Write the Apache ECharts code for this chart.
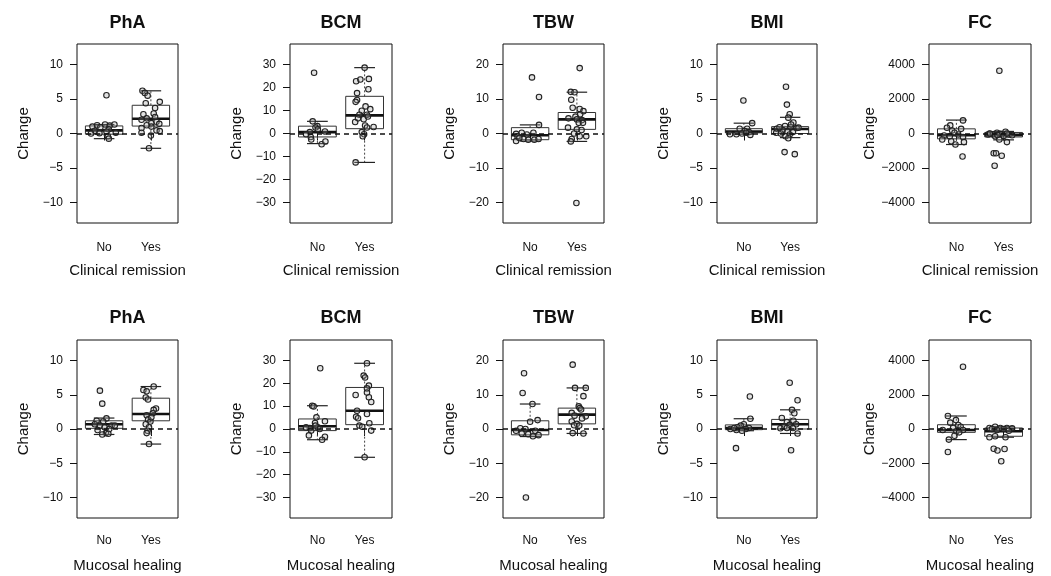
<!DOCTYPE html>
<html>
<head>
<meta charset="utf-8">
<title>Change by remission / healing</title>
<script src="https://cdn.jsdelivr.net/npm/echarts@6/dist/echarts.min.js"></script>
<style>
  html, body { margin: 0; padding: 0; background: #fff; }
  #chart { width: 1051px; height: 576px; }
</style>
</head>
<body>
<div id="chart"></div>
<script>
// 分组与面板
var groups = ["No", "Yes"];
var measures = ["PhA", "BCM", "TBW", "BMI", "FC"];
var rowLabels = ["Clinical remission", "Mucosal healing"];

// y 轴刻度
var ticksPhA = [-10, -5, 0, 5, 10];
var ticksBCM = [-30, -20, -10, 0, 10, 20, 30];
var ticksTBW = [-20, -10, 0, 10, 20];
var ticksBMI = [-10, -5, 0, 5, 10];
var ticksFC = [-4000, -2000, 0, 2000, 4000];
var yLimits = [13, 39, 26, 13, 5200];

// 箱线: [下须, Q1, 中位数, Q3, 上须]，No / Yes
var phaCrBox = [[-0.75, -0.1, 0.45, 1.1, 1.3], [-2.15, 1.08, 2.15, 4.1, 6.2]];
var bcmCrBox = [[-4.4, -1.5, 0.6, 3.2, 5.3], [-12.6, 2.1, 7.9, 16.2, 28.7]];
var tbwCrBox = [[-2.2, -1.8, -0.5, 1.7, 2.5], [-2.3, 1.2, 4.1, 6.1, 12.0]];
var bmiCrBox = [[-0.1, 0.1, 0.3, 0.7, 1.5], [-0.6, 0, 0.65, 1.0, 2.35]];
var fcCrBox = [[-640, -310, -100, 270, 780], [-370, -200, -80, 60, 120]];
var phaMhBox = [[-0.8, 0.1, 0.7, 1.2, 1.6], [-2.2, 1.2, 2.2, 4.5, 6.2]];
var bcmMhBox = [[-4.7, -0.7, 1.2, 4.4, 10.2], [-12.4, 1.9, 8.0, 18.2, 28.8]];
var tbwMhBox = [[-2.2, -1.7, -0.3, 2.4, 7.3], [-1.3, 1.5, 4.2, 6.1, 12.0]];
var bmiMhBox = [[-0.25, -0.1, 0.15, 0.6, 1.5], [-0.65, 0, 0.7, 1.4, 2.8]];
var fcMhBox = [[-620, -195, -60, 250, 760], [-480, -425, -135, 60, 135]];

// 散点: [抖动偏移, 数值]
var phaCrNo = [[-0.25, 1.0], [-0.15, 1.2], [0.02, 1.3], [0.12, 1.15], [0.22, 1.3], [-0.08, 0.9], [0.1, 0.6], [-0.2, 0.4], [0.05, 0.3], [-0.1, 0.05], [0.25, 0.1], [-0.28, 0.0], [0.08, -0.4], [0.1, -0.75], [0.05, 5.55]];
var phaCrYes = [[-0.18, 6.2], [-0.13, 5.9], [-0.07, 5.5], [-0.11, 4.4], [0.19, 4.6], [0.09, 3.7], [0.06, 2.9], [-0.16, 2.8], [-0.09, 2.2], [-0.2, 2.0], [0.12, 1.7], [0.01, 1.5], [0.18, 1.4], [0.01, 1.0], [-0.2, 0.8], [0.12, 0.45], [0.19, 0.35], [-0.2, 0.1], [0, -0.3], [-0.04, -2.15], [0.09, 2.4], [-0.09, 1.2]];
var bcmCrNo = [[-0.07, 26.5], [-0.1, 5.3], [0, 3.2], [-0.04, 2.6], [-0.16, 0.6], [0.16, 0.9], [-0.14, -1.5], [-0.13, -2.6], [0.09, -4.7], [0.17, -3.5], [-0.24, -0.3], [0.01, 1.8]];
var bcmCrYes = [[0, 28.7], [-0.18, 22.8], [-0.09, 23.5], [0.09, 23.8], [0.08, 19.3], [-0.16, 17.6], [-0.16, 14.6], [-0.19, 13.8], [0.02, 11.8], [0.12, 10.6], [-0.06, 9.9], [-0.11, 8.2], [0.05, 8.2], [-0.2, 5.0], [-0.02, 6.2], [-0.14, 6.6], [0.01, 3.5], [0.19, 2.8], [0.05, 2.6], [-0.06, 0.6], [-0.01, -0.3], [-0.04, -1.2], [-0.19, -12.6], [0.07, 7.4]];
var tbwCrNo = [[0.04, 16.3], [0.19, 10.6], [0.19, 2.5], [-0.3, -0.1], [-0.18, 0.2], [-0.07, -0.3], [0.07, 0.2], [-0.27, -0.8], [-0.14, -1.6], [-0.04, -1.8], [0.09, -1.8], [0.18, -1.6], [-0.3, -2.2], [-0.23, -1.3]];
var tbwCrYes = [[0.06, 19], [-0.13, 12.1], [-0.05, 12], [-0.12, 9.8], [-0.09, 7.5], [0.06, 7.1], [0.14, 6.5], [0.07, 5.6], [-0.03, 4.9], [-0.18, 4.4], [0, 4.1], [0.11, 3.9], [0.04, 3.1], [-0.19, 1.7], [0, 1.2], [0.1, 1.0], [-0.06, 0], [0.2, -0.8], [0.06, -0.8], [-0.11, -1.6], [-0.13, -2.3], [-0.01, -20.2], [0.13, 3.1]];
var bmiCrNo = [[-0.01, 4.8], [0.18, 1.5], [-0.09, 0.7], [0.07, 0.7], [0.02, 0.35], [0.11, 0.2], [-0.16, -0.1], [-0.04, 0], [-0.3, -0.1], [0.14, -0.2], [0.05, 0.1]];
var bmiCrYes = [[-0.09, 6.8], [-0.07, 4.2], [-0.01, 2.8], [-0.04, 2.3], [0.07, 1.6], [-0.11, 1.1], [0.01, 0.9], [0.14, 0.8], [-0.29, 0.7], [-0.16, 0.5], [-0.06, 0.3], [0.06, 0.2], [-0.3, 0.1], [-0.2, 0], [-0.01, -0.15], [-0.1, -0.4], [-0.04, -0.7], [-0.12, -2.7], [0.1, -3.0], [0.18, 0.85], [-0.23, 0.9], [0.02, 1.3]];
var fcCrNo = [[0.14, 760], [-0.13, 470], [-0.2, 330], [0.1, 270], [-0.09, 175], [-0.04, 40], [0.04, -60], [-0.26, -120], [-0.14, -160], [0.14, -200], [-0.3, -350], [-0.11, -450], [0.16, -500], [-0.02, -640], [0.13, -1340]];
var fcCrYes = [[-0.09, 3650], [0.04, 100], [-0.14, 40], [-0.3, -20], [-0.23, -40], [-0.07, -20], [0.11, -60], [0.18, -100], [-0.33, -60], [0, -140], [-0.18, -160], [-0.09, -350], [0.07, -500], [-0.21, -1150], [-0.16, -1150], [-0.04, -1290], [-0.19, -1870], [-0.29, 0], [0.07, 0], [-0.13, -80]];
var phaMhNo = [[-0.09, 5.6], [-0.04, 3.7], [0.05, 1.55], [-0.16, 1.2], [-0.02, 1.1], [-0.2, 0.7], [-0.09, 0.5], [0.16, 0.5], [0.01, 0.25], [0.11, 0], [-0.14, -0.15], [0.04, -0.6], [-0.04, -0.8], [0.09, -0.7], [0.23, 0.5]];
var phaMhYes = [[0.06, 6.2], [-0.16, 5.7], [-0.09, 5.5], [-0.11, 4.6], [-0.06, 4.3], [0.11, 3.0], [0.06, 2.8], [0.04, 2.3], [-0.09, 2.0], [-0.06, 1.4], [-0.01, 1.1], [-0.11, 0.7], [-0.04, 0.25], [-0.07, -0.25], [-0.09, -0.6], [-0.04, -2.2], [0.01, 1.7]];
var bcmMhNo = [[0.06, 26.6], [-0.11, 10.2], [-0.08, 9.9], [-0.02, 5.1], [0.16, 3.4], [-0.05, 2.6], [-0.16, 0.4], [0.01, 0.7], [-0.04, 1.5], [-0.13, -0.7], [-0.18, -2.8], [0.16, -3.4], [0.1, -4.7], [-0.24, 0.7], [0.05, 0]];
var bcmMhYes = [[0.05, 28.8], [-0.02, 23.4], [0.01, 22.6], [0.09, 19], [0.05, 17.8], [-0.19, 14.9], [0.09, 13.9], [0.14, 11.8], [-0.16, 8.0], [0.05, 6.6], [-0.18, 5.4], [-0.14, 4.7], [0.1, 2.5], [-0.11, 1.5], [-0.05, 1.0], [0.14, -0.7], [0, -12.4], [0.05, 16]];
var tbwMhNo = [[-0.13, 16.3], [-0.16, 10.5], [0.05, 7.3], [0.16, 2.6], [0, 2.1], [-0.21, 0.2], [-0.1, 0], [-0.3, -0.5], [0.11, -0.5], [-0.04, -1.5], [0.06, -2.1], [0.18, -1.8], [-0.18, -1.3], [-0.09, -20]];
var tbwMhYes = [[-0.09, 18.8], [-0.04, 12], [0.19, 12], [0.14, 9.6], [0.04, 6.6], [0.06, 6.1], [0.09, 5.7], [-0.11, 4.7], [-0.05, 3.9], [0.19, 3.7], [0.11, 3.1], [-0.11, 2.2], [0, 1.5], [0.05, 1.0], [-0.06, 1.1], [-0.09, -1.2], [0.14, -1.3]];
var bmiMhNo = [[0.13, 4.75], [0.14, 1.5], [0, 0.7], [-0.07, 0.5], [-0.14, 0.25], [0.11, 0.15], [0.04, 0], [-0.29, 0], [-0.16, -0.15], [-0.04, -0.25], [-0.21, 0.15], [-0.17, -2.8]];
var bmiMhYes = [[-0.01, 6.75], [0.16, 4.2], [0.04, 2.8], [0.09, 2.3], [-0.18, 1.6], [0.07, 1.2], [-0.07, 1.0], [0.13, 0.7], [-0.01, 0.6], [-0.13, 0.35], [-0.21, 0.1], [0.06, 0.15], [0.16, -0.65], [0.02, -3.1], [-0.07, 0.15]];
var fcMhNo = [[0.14, 3640], [-0.18, 760], [-0.13, 370], [-0.01, 520], [0.04, 230], [0.09, 135], [-0.07, 60], [0.14, -60], [-0.29, -60], [0, -135], [-0.04, -390], [-0.16, -620], [-0.18, -1340], [0.06, -195]];
var fcMhYes = [[-0.18, 135], [-0.3, 60], [-0.07, 60], [0.07, 60], [0.18, 40], [-0.25, 0], [0, 0], [-0.14, -60], [0.11, -100], [-0.3, -485], [0.04, -485], [-0.21, -1150], [0.02, -1170], [-0.13, -1260], [-0.05, -1880], [-0.18, -425]];

(function () {
  var myChart = echarts.init(document.getElementById("chart"));
  var font = "Liberation Sans, Arial, sans-serif";
  var ink = "#111";

  // 面板布局
  var gridLeft = [77, 290, 503, 717, 929];
  var gridWidth = [101, 102, 101, 100, 102];
  var gridTop = [44, 340];
  var gridHeight = [179, 178];
  var titleTop = [14, 309];
  var labelMargin = [19, 17];

  var tickSets = [ticksPhA, ticksBCM, ticksTBW, ticksBMI, ticksFC];
  var boxes = [
    [phaCrBox, bcmCrBox, tbwCrBox, bmiCrBox, fcCrBox],
    [phaMhBox, bcmMhBox, tbwMhBox, bmiMhBox, fcMhBox]
  ];
  var points = [
    [[phaCrNo, phaCrYes], [bcmCrNo, bcmCrYes], [tbwCrNo, tbwCrYes], [bmiCrNo, bmiCrYes], [fcCrNo, fcCrYes]],
    [[phaMhNo, phaMhYes], [bcmMhNo, bcmMhYes], [tbwMhNo, tbwMhYes], [bmiMhNo, bmiMhYes], [fcMhNo, fcMhYes]]
  ];

  function minusSign(v) {
    return String(v).replace("-", "\u2212");
  }

  // 画箱线图（R 风格：虚线须、实线端线、粗中位线）
  function renderBox(params, api) {
    var x = api.value(0);
    var lo = api.coord([x, api.value(1)]);
    var q1 = api.coord([x, api.value(2)]);
    var md = api.coord([x, api.value(3)]);
    var q3 = api.coord([x, api.value(4)]);
    var hi = api.coord([x, api.value(5)]);
    var hb = api.size([0.4, 0])[0];
    var hc = api.size([0.22, 0])[0];
    var cx = lo[0];
    var whisker = { stroke: "#444", lineWidth: 1, lineDash: [2, 2] };
    var solid = { stroke: "#222", lineWidth: 1.2 };
    return {
      type: "group",
      children: [
        { type: "line", shape: { x1: cx, y1: q3[1], x2: cx, y2: hi[1] }, style: whisker },
        { type: "line", shape: { x1: cx, y1: q1[1], x2: cx, y2: lo[1] }, style: whisker },
        { type: "line", shape: { x1: cx - hc, y1: hi[1], x2: cx + hc, y2: hi[1] }, style: solid },
        { type: "line", shape: { x1: cx - hc, y1: lo[1], x2: cx + hc, y2: lo[1] }, style: solid },
        { type: "rect", shape: { x: cx - hb, y: q3[1], width: 2 * hb, height: q1[1] - q3[1] },
          style: { fill: "rgba(255,255,255,0)", stroke: "#333", lineWidth: 1 } },
        { type: "line", shape: { x1: cx - hb, y1: md[1], x2: cx + hb, y2: md[1] },
          style: { stroke: "#111", lineWidth: 2.6 } }
      ]
    };
  }

  var grid = [], xAxis = [], yAxis = [], series = [], title = [];

  for (var r = 0; r < 2; r++) {
    for (var c = 0; c < 5; c++) {
      var k = r * 5 + c;
      var lim = yLimits[c];
      grid.push({
        left: gridLeft[c], top: gridTop[r], width: gridWidth[c], height: gridHeight[r],
        show: true, borderColor: ink, borderWidth: 1, backgroundColor: "transparent"
      });
      title.push({
        text: measures[c],
        left: gridLeft[c] + gridWidth[c] / 2,
        top: titleTop[r],
        textAlign: "center",
        padding: 0,
        textStyle: { fontSize: 18, fontWeight: "bold", color: ink, fontFamily: font }
      });
      xAxis.push({
        type: "value", gridIndex: k, min: 0.42, max: 2.58,
        name: rowLabels[r], nameLocation: "middle", nameGap: 40,
        nameTextStyle: { fontSize: 15, color: ink, fontFamily: font },
        axisLine: { show: false },
        axisTick: { show: true, length: 7, customValues: [1, 2], lineStyle: { color: ink } },
        axisLabel: {
          customValues: [1, 2], margin: labelMargin[r], fontSize: 12, color: ink, fontFamily: font,
          formatter: function (v) { return groups[Math.round(v) - 1]; }
        },
        splitLine: { show: false }
      });
      yAxis.push({
        type: "value", gridIndex: k, min: -lim, max: lim,
        name: "Change", nameLocation: "middle", nameGap: 46,
        nameTextStyle: { fontSize: 15, color: ink, fontFamily: font },
        axisLine: { show: false },
        axisTick: { show: true, length: 7, customValues: tickSets[c], lineStyle: { color: ink } },
        axisLabel: {
          customValues: tickSets[c], margin: 14, fontSize: 12, color: ink, fontFamily: font,
          formatter: minusSign
        },
        splitLine: { show: false }
      });

      // 箱线
      var boxData = boxes[r][c].map(function (s, i) {
        return [i + 1].concat(s);
      });
      series.push({
        type: "custom", xAxisIndex: k, yAxisIndex: k, z: 2,
        renderItem: renderBox,
        encode: { x: 0, y: [1, 2, 3, 4, 5] },
        data: boxData,
        silent: true
      });

      // 抖动散点
      var pts = [];
      points[r][c].forEach(function (grp, i) {
        grp.forEach(function (p) { pts.push([i + 1 + p[0], p[1]]); });
      });
      series.push({
        type: "scatter", xAxisIndex: k, yAxisIndex: k, z: 3,
        symbol: "circle", symbolSize: 5.5,
        itemStyle: { color: "rgba(160,160,160,0.3)", borderColor: "#222", borderWidth: 1.1, opacity: 1 },
        data: pts,
        markLine: {
          silent: true, symbol: ["none", "none"], label: { show: false },
          lineStyle: { color: ink, type: [5, 4], width: 1.5 },
          data: [{ yAxis: 0 }]
        }
      });
    }
  }

  var option = {
    animation: false,
    backgroundColor: "#fff",
    textStyle: { fontFamily: font },
    title: title,
    grid: grid,
    xAxis: xAxis,
    yAxis: yAxis,
    series: series
  };
  myChart.setOption(option);
  window.addEventListener("resize", function () {
    myChart.resize();
  });
})();
</script>
</body>
</html>
